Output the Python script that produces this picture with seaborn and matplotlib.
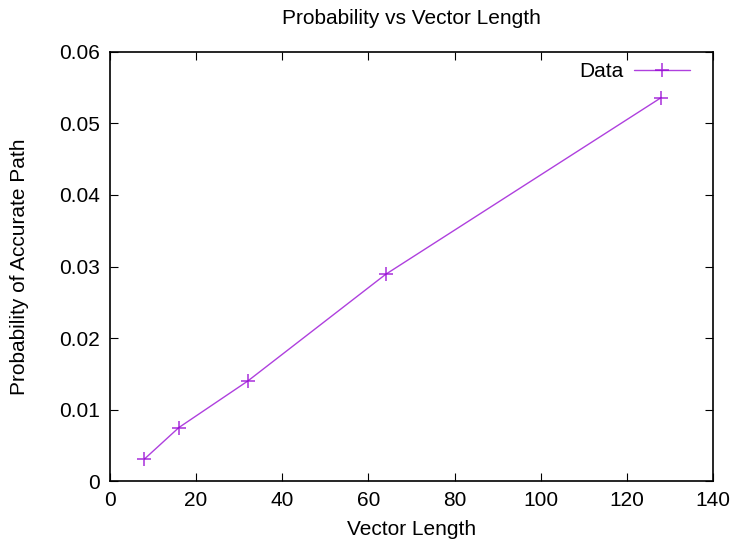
import pandas as pd
import matplotlib
matplotlib.use("Agg")
import matplotlib.pyplot as plt
import seaborn as sns

vector_length = [8, 16, 32, 64, 128]
probability = [0.0031, 0.0075, 0.0140, 0.0289, 0.0536]

df = pd.DataFrame({"Vector Length": vector_length, "Probability": probability})

sns.set_style("ticks", {"text.color": "black", "axes.labelcolor": "black",
                        "xtick.color": "black", "ytick.color": "black",
                        "axes.edgecolor": "black"})
plt.rcParams["font.family"] = ["Liberation Sans", "DejaVu Sans"]

LINE_COLOR = "#9400D3"
FS = 15

fig = plt.figure(figsize=(7.38, 5.45), dpi=100)
ax = fig.add_axes([0.149, 0.117, 0.817, 0.788])

sns.lineplot(data=df, x="Vector Length", y="Probability", ax=ax,
             color=LINE_COLOR, linewidth=1.0, marker="+", markersize=10,
             markeredgewidth=1.2, markeredgecolor=LINE_COLOR,
             label="Data", alpha=0.75)

ax.set_xlim(0, 140)
ax.set_ylim(0, 0.06)
ax.set_xticks(range(0, 141, 20))
ax.set_yticks([0, 0.01, 0.02, 0.03, 0.04, 0.05, 0.06])
ax.set_yticklabels(["0", "0.01", "0.02", "0.03", "0.04", "0.05", "0.06"])
ax.tick_params(direction="in", top=True, right=True, length=6, labelsize=FS,
               pad=7, colors="black")
for s in ax.spines.values():
    s.set_linewidth(1.2)
    s.set_color("black")
    s.set_visible(True)

ax.set_xlabel("Vector Length", fontsize=FS, color="black")
ax.set_ylabel("Probability of Accurate Path", fontsize=FS, color="black")
ax.xaxis.set_label_coords(0.5, -0.09)
ax.yaxis.set_label_coords(-0.135, 0.5)
ax.set_title("Probability vs Vector Length", fontsize=FS, pad=20, color="black")

leg = ax.legend(loc="upper right", bbox_to_anchor=(0.98, 1.0), frameon=False,
                markerfirst=False, fontsize=FS, handlelength=2.7, handletextpad=0.5,
                borderaxespad=0.0, borderpad=0.5)
for t in leg.get_texts():
    t.set_color("black")

fig.savefig("out.png", dpi=100)
